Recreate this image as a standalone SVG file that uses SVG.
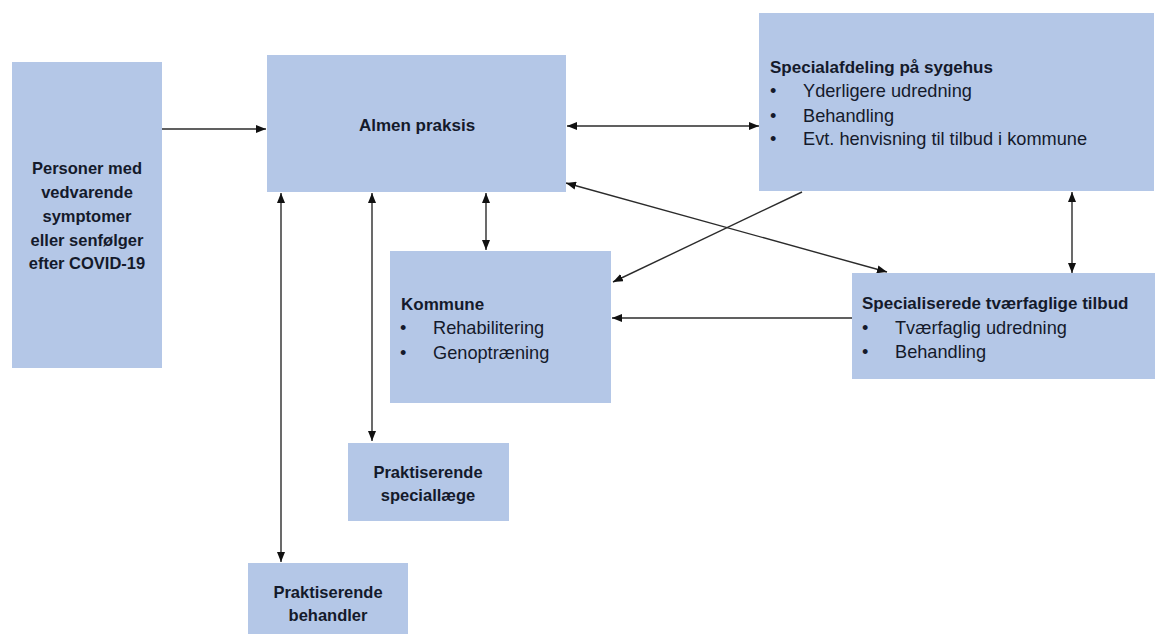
<svg xmlns="http://www.w3.org/2000/svg" width="1159" height="634" viewBox="0 0 1159 634">
<style>
.box{fill:#B4C7E7;}
.t{font-family:"Liberation Sans",Arial,sans-serif;fill:#141a2b;}
.b{font-weight:bold;font-size:16.5px;}
.h{font-weight:bold;font-size:17px;}
.r{font-size:18.2px;}
.c{text-anchor:middle;}
.ln{stroke:#2b2b2b;stroke-width:1.4;fill:none;}
</style>
<defs>
<marker id="ah" markerUnits="userSpaceOnUse" markerWidth="10" markerHeight="8" refX="10" refY="4" orient="auto-start-reverse">
<path d="M0,0 L10,4 L0,8 z" fill="#111"/>
</marker>
</defs>
<rect width="1159" height="634" fill="#ffffff"/>
<g id="connectors">
<line class="ln" x1="162" y1="129" x2="266" y2="129" marker-end="url(#ah)"/>
<line class="ln" x1="567" y1="126" x2="759" y2="126" marker-start="url(#ah)" marker-end="url(#ah)"/>
<line class="ln" x1="486" y1="193" x2="486" y2="250" marker-start="url(#ah)" marker-end="url(#ah)"/>
<line class="ln" x1="566" y1="183" x2="887" y2="272" marker-start="url(#ah)" marker-end="url(#ah)"/>
<line class="ln" x1="802" y1="192" x2="613" y2="282" marker-end="url(#ah)"/>
<line class="ln" x1="852" y1="318" x2="612" y2="318" marker-end="url(#ah)"/>
<line class="ln" x1="1072" y1="192" x2="1072" y2="273" marker-start="url(#ah)" marker-end="url(#ah)"/>
<line class="ln" x1="372" y1="193" x2="372" y2="441" marker-start="url(#ah)" marker-end="url(#ah)"/>
<line class="ln" x1="281" y1="193" x2="281" y2="562" marker-start="url(#ah)" marker-end="url(#ah)"/>
</g>
<g id="personer">
<rect class="box" x="12" y="62" width="150" height="306"/>
<text class="t b c" x="87" y="174">Personer med</text>
<text class="t b c" x="87" y="198">vedvarende</text>
<text class="t b c" x="87" y="222">symptomer</text>
<text class="t b c" x="87" y="246">eller senfølger</text>
<text class="t b c" x="87" y="269">efter COVID-19</text>
</g>
<g id="almen">
<rect class="box" x="267" y="55" width="299" height="137"/>
<text class="t h c" x="417" y="131">Almen praksis</text>
</g>
<g id="specialafdeling">
<rect class="box" x="759" y="13" width="395" height="178"/>
<text class="t h" x="770" y="73">Specialafdeling på sygehus</text>
<text class="t r" x="770" y="97">•</text><text class="t r" x="803" y="97">Yderligere udredning</text>
<text class="t r" x="770" y="122">•</text><text class="t r" x="803" y="122">Behandling</text>
<text class="t r" x="770" y="145">•</text><text class="t r" x="803" y="145">Evt. henvisning til tilbud i kommune</text>
</g>
<g id="kommune">
<rect class="box" x="390" y="251" width="221" height="152"/>
<text class="t h" x="401" y="310">Kommune</text>
<text class="t r" x="400" y="334">•</text><text class="t r" x="433" y="334">Rehabilitering</text>
<text class="t r" x="400" y="359">•</text><text class="t r" x="433" y="359">Genoptræning</text>
</g>
<g id="specialiserede">
<rect class="box" x="852" y="273" width="303" height="106"/>
<text class="t h" x="862" y="309">Specialiserede tværfaglige tilbud</text>
<text class="t r" x="862" y="334">•</text><text class="t r" x="895" y="334">Tværfaglig udredning</text>
<text class="t r" x="862" y="358">•</text><text class="t r" x="895" y="358">Behandling</text>
</g>
<g id="speciallaege">
<rect class="box" x="348" y="443" width="161" height="78"/>
<text class="t b c" x="428" y="478">Praktiserende</text>
<text class="t b c" x="428" y="501">speciallæge</text>
</g>
<g id="behandler">
<rect class="box" x="248" y="563" width="160" height="71"/>
<text class="t b c" x="328" y="598">Praktiserende</text>
<text class="t b c" x="328" y="621">behandler</text>
</g>
</svg>
